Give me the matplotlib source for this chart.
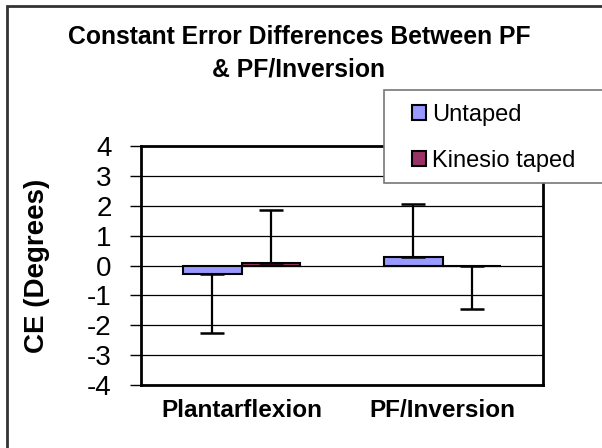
import numpy as np
import matplotlib
matplotlib.use('Agg')
import matplotlib.pyplot as plt
from matplotlib.patches import Rectangle

plt.rcParams['font.family'] = ['Liberation Sans', 'DejaVu Sans']

# dados
categorias = ['Plantarflexion', 'PF/Inversion']
untaped = [-0.27, 0.27]
untaped_err = [2.0, 1.78]
kinesio = [0.07, -0.02]
kinesio_err = [1.8, 1.45]
series = ['Untaped', 'Kinesio taped']
cores = ['#9999FF', '#993366']
y_ticks = [-4, -3, -2, -1, 0, 1, 2, 3, 4]

W, H = 602, 448
fig = plt.figure(figsize=(W / 100, H / 100), dpi=100)
ax = fig.add_axes([141 / W, 1 - 385 / H, (543 - 141) / W, (385 - 146) / H])

x = np.arange(len(categorias))
larg = 0.29

for i, (vals, errs) in enumerate([(untaped, untaped_err), (kinesio, kinesio_err)]):
    pos = x + (i - 0.5) * larg
    ax.bar(pos, vals, width=larg, color=cores[i], edgecolor='black',
           linewidth=1.5, label=series[i], zorder=3)
    # barras de erro de um lado so (estilo excel)
    baixo = [e if v < 0 else 0 for v, e in zip(vals, errs)]
    cima = [e if v >= 0 else 0 for v, e in zip(vals, errs)]
    ax.errorbar(pos, vals, yerr=[baixo, cima], fmt='none', ecolor='black',
                elinewidth=1.6, capsize=8.5, capthick=1.8, zorder=4)

ax.set_xlim(-0.5, 1.5)
ax.set_ylim(-4, 4)
ax.set_yticks(y_ticks)
ax.set_yticklabels([str(t) for t in y_ticks], fontsize=20)
ax.set_xticks(x)
ax.set_xticklabels(categorias, fontsize=17.5, fontweight='bold')
ax.tick_params(axis='x', length=0, pad=10)
ax.tick_params(axis='y', length=8, width=1, pad=13, direction='out')
ax.grid(True, axis='y', color='black', linewidth=0.9, zorder=0)
ax.set_axisbelow(True)
for s in ax.spines.values():
    s.set_linewidth(2)
    s.set_color('black')
ax.set_ylabel('CE (Degrees)', fontsize=20, fontweight='bold')
ax.yaxis.set_label_coords(-(141 - 50) / (543 - 141), 0.5)

# titulo
fig.text(299 / W, 1 - 37 / H, 'Constant Error Differences Between PF',
         ha='center', va='center', fontsize=17.8, fontweight='bold')
fig.text(299 / W, 1 - 69 / H, '& PF/Inversion',
         ha='center', va='center', fontsize=17.8, fontweight='bold')

# borda externa do grafico
fig.patches.append(Rectangle((7 / W, -0.1), 1.2, 1 - 6 / H + 0.1,
                             transform=fig.transFigure, fill=False,
                             edgecolor='#333333', linewidth=2))

# caixa da legenda
fig.patches.append(Rectangle((384 / W, 1 - 183 / H), 0.5, (183 - 90) / H,
                             transform=fig.transFigure, facecolor='white',
                             edgecolor='#777777', linewidth=1.2, zorder=5))
leg = fig.legend(loc='center left', bbox_to_anchor=(400 / W, 1 - 138 / H),
                 fontsize=17, frameon=False, handlelength=0.6, handleheight=0.6,
                 handletextpad=0.25, labelspacing=1.0, borderpad=0)
leg.set_zorder(6)
for h in leg.legend_handles:
    h.set_linewidth(1.5)
    h.set_edgecolor('black')

fig.savefig('out.png', dpi=100)
